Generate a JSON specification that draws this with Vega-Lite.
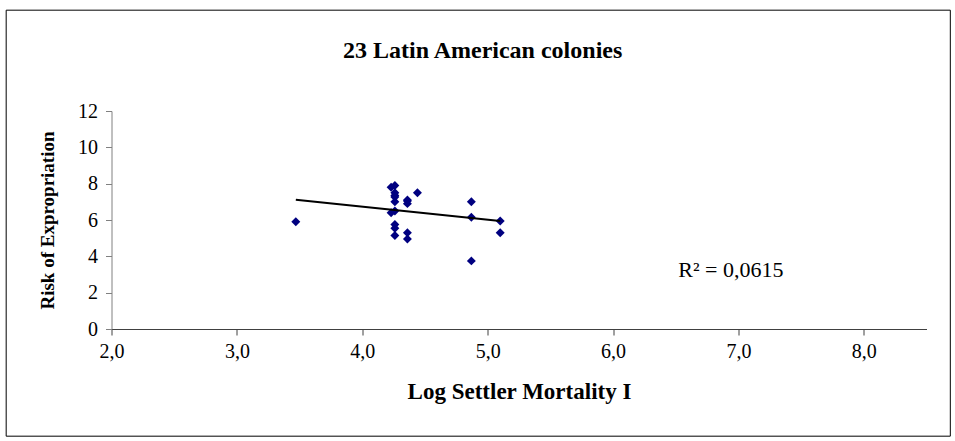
{
  "$schema": "https://vega.github.io/schema/vega-lite/v6.json",
  "width": 815,
  "height": 218,
  "autosize": "none",
  "padding": {"left": 111.5, "top": 111, "right": 28.5, "bottom": 112},
  "background": "white",
  "config": {
    "view": {"stroke": null},
    "font": "Liberation Serif"
  },
  "datasets": {
    "colonies": [
      {"mortality": 3.47, "risk": 5.90},
      {"mortality": 4.23, "risk": 7.80},
      {"mortality": 4.26, "risk": 7.90},
      {"mortality": 4.26, "risk": 7.50},
      {"mortality": 4.26, "risk": 7.35},
      {"mortality": 4.26, "risk": 7.27},
      {"mortality": 4.26, "risk": 7.00},
      {"mortality": 4.23, "risk": 6.40},
      {"mortality": 4.26, "risk": 6.50},
      {"mortality": 4.26, "risk": 5.75},
      {"mortality": 4.26, "risk": 5.55},
      {"mortality": 4.26, "risk": 5.15},
      {"mortality": 4.36, "risk": 7.10},
      {"mortality": 4.36, "risk": 6.90},
      {"mortality": 4.36, "risk": 5.30},
      {"mortality": 4.36, "risk": 4.95},
      {"mortality": 4.44, "risk": 7.50},
      {"mortality": 4.87, "risk": 7.00},
      {"mortality": 4.87, "risk": 6.15},
      {"mortality": 4.87, "risk": 3.75},
      {"mortality": 5.10, "risk": 5.95},
      {"mortality": 5.10, "risk": 5.30},
      {"mortality": 4.36, "risk": 7.05}
    ],
    "trend": [
      {"mortality": 3.47, "risk": 7.12},
      {"mortality": 5.10, "risk": 5.94}
    ],
    "single": [{}]
  },
  "layer": [
    {
      "data": {"name": "colonies"},
      "mark": {"type": "point", "shape": "diamond", "filled": true, "color": "#000080", "size": 80, "opacity": 1},
      "encoding": {
        "x": {
          "field": "mortality",
          "type": "quantitative",
          "scale": {"domain": [2, 8.5], "nice": false, "zero": false},
          "axis": {
            "title": "Log Settler Mortality I",
            "titleFont": "Liberation Serif",
            "titleFontWeight": "bold",
            "titleFontSize": 23,
            "titleColor": "#000000",
            "titlePadding": 19,
            "values": [2, 3, 4, 5, 6, 7, 8],
            "tickCount": 20,
            "labelExpr": "replace(format(datum.value, '.1f'), '.', ',')",
            "labelFont": "Liberation Serif",
            "labelFontSize": 20,
            "labelColor": "#000000",
            "labelPadding": 6,
            "labelFlush": false,
            "labelOverlap": false,
            "tickSize": 6,
            "tickColor": "#404040",
            "domainColor": "#404040",
            "grid": false
          }
        },
        "y": {
          "field": "risk",
          "type": "quantitative",
          "scale": {"domain": [0, 12], "nice": false},
          "axis": {
            "title": "Risk of Expropriation",
            "titleFont": "Liberation Serif",
            "titleFontWeight": "bold",
            "titleFontSize": 19,
            "titleColor": "#000000",
            "titlePadding": 20,
            "values": [0, 2, 4, 6, 8, 10, 12],
            "tickCount": 12,
            "labelFont": "Liberation Serif",
            "labelFontSize": 20,
            "labelColor": "#000000",
            "labelPadding": 8,
            "labelFlush": false,
            "labelOverlap": false,
            "tickSize": 6,
            "tickColor": "#808080",
            "domainColor": "#808080",
            "grid": false
          }
        }
      }
    },
    {
      "data": {"name": "single"},
      "mark": {"type": "rect", "fill": null, "stroke": "#000000", "strokeWidth": 1},
      "encoding": {
        "x": {"datum": 1.16, "type": "quantitative"},
        "x2": {"datum": 8.69},
        "y": {"datum": 17.55, "type": "quantitative"},
        "y2": {"datum": -5.9}
      }
    },
    {
      "data": {"name": "single"},
      "mark": {"type": "text", "text": "23 Latin American colonies", "font": "Liberation Serif", "fontWeight": "bold", "fontSize": 24, "align": "center", "baseline": "middle", "color": "#000000"},
      "encoding": {
        "x": {"datum": 4.96, "type": "quantitative"},
        "y": {"datum": 15.3, "type": "quantitative"}
      }
    },
    {
      "data": {"name": "trend"},
      "mark": {"type": "line", "color": "#000000", "strokeWidth": 2},
      "encoding": {
        "x": {"field": "mortality", "type": "quantitative"},
        "y": {"field": "risk", "type": "quantitative"}
      }
    },
    {
      "data": {"name": "single"},
      "mark": {"type": "text", "text": "R² = 0,0615", "font": "Liberation Serif", "fontSize": 22, "align": "left", "baseline": "middle", "color": "#000000"},
      "encoding": {
        "x": {"datum": 6.52, "type": "quantitative"},
        "y": {"datum": 3.25, "type": "quantitative"}
      }
    }
  ]
}
